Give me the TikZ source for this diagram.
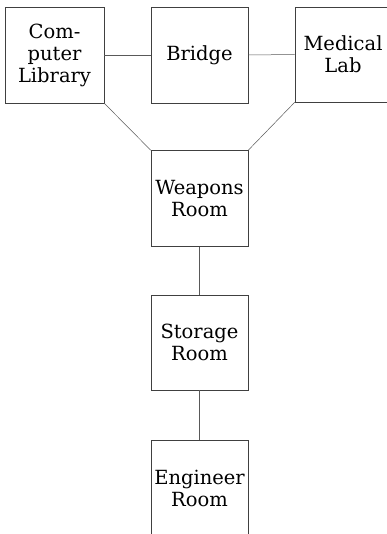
\documentclass[tikz,border=0pt]{standalone}
\usepackage{fontspec}
\setmainfont{DejaVu Serif}
\begin{document}
\begin{tikzpicture}[x=1pt,y=-1pt,
  room/.style={draw=black!75, line width=0.6pt, minimum width=97pt, minimum height=96pt, inner sep=0pt, align=center,
    font=\fontsize{19.5}{22}\selectfont, text=black},
  link/.style={draw=black!65, line width=0.5pt}]
\useasboundingbox (0,0) rectangle (387,534);
\clip (0,0) rectangle (387,534);
\node[room, minimum width=99pt] (cl) at (54.5,55) {Com-\\puter\\Library};
\node[room] (br) at (199.5,55) {Bridge};
\node[room, minimum width=96pt, minimum height=95pt] (ml) at (343,54.5) {Medical\\Lab};
\node[room] (wr) at (199.5,198.5) {Weapons\\Room};
\node[room, minimum height=95pt] (sr) at (199.5,342.5) {Storage\\Room};
\node[room] (er) at (199.5,488) {Engineer\\Room};
\draw[link] (cl.east) -- (br.west);
\draw[link] (br.east) -- (ml.west);
\draw[link] (cl.south east) -- (wr.north west);
\draw[link] (ml.south west) -- (wr.north east);
\draw[link] (wr.south) -- (sr.north);
\draw[link] (sr.south) -- (er.north);
\end{tikzpicture}
\end{document}
